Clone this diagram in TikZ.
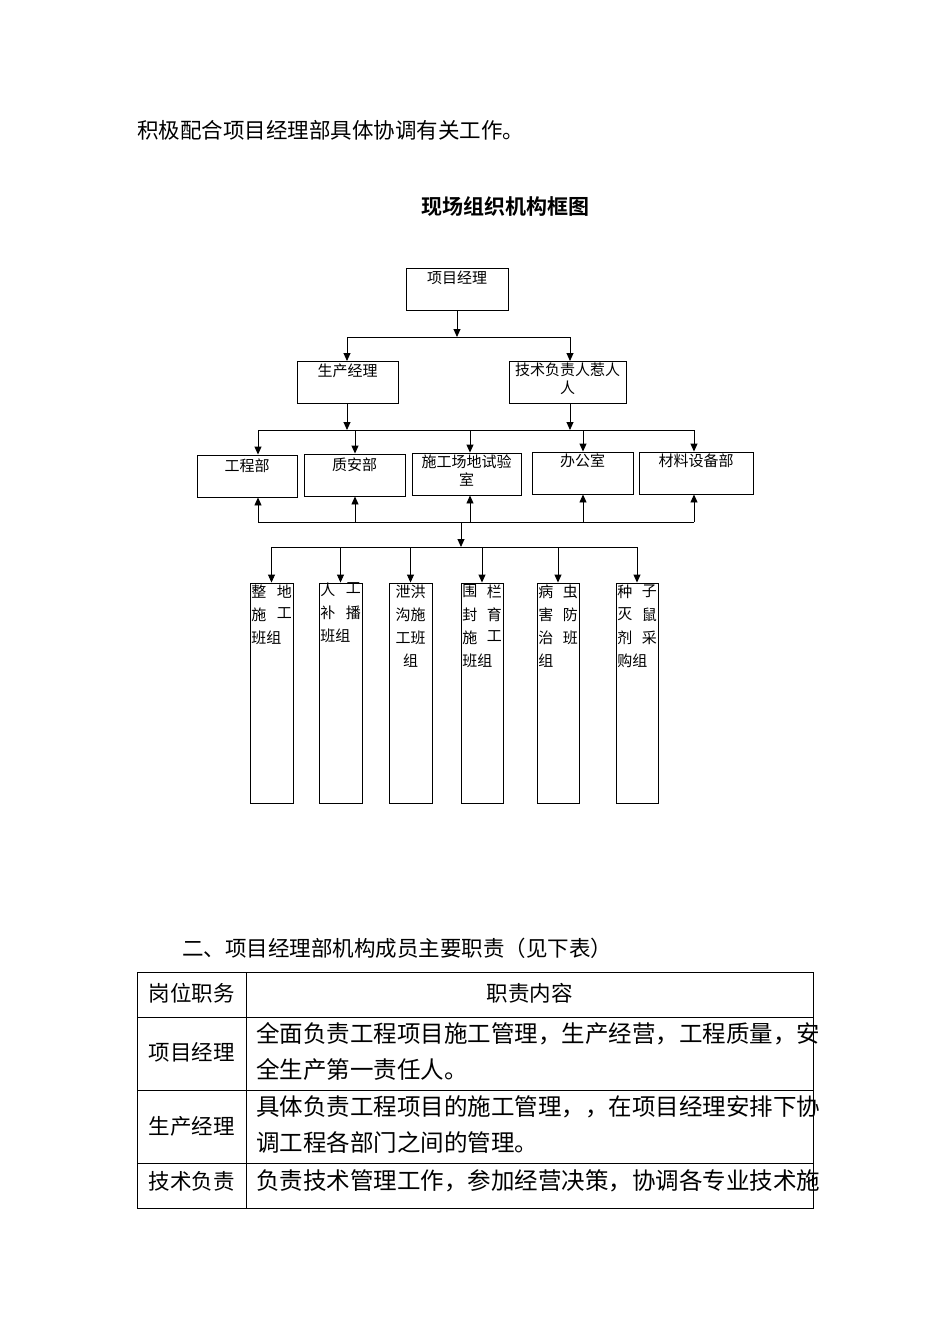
\documentclass[tikz,border=0pt]{standalone}
\usepackage{fontspec}
\setmainfont{Liberation Serif}
\newfontfamily\cjk{Noto Sans CJK SC}
\newfontfamily\cjkb{Noto Sans CJK SC Bold}
\usetikzlibrary{arrows.meta}
\begin{document}
\begin{tikzpicture}[x=1pt,y=-1pt,
  box/.style={draw,line width=0.9pt,inner sep=0pt},
  lab/.style={font=\cjk\fontsize{15}{18}\selectfont,inner sep=0pt,align=center},
  arr/.style={line width=0.9pt,-{Triangle[length=8pt,width=7pt]}},
  ln/.style={line width=0.9pt},
  body/.style={font=\cjk\fontsize{21.5}{24}\selectfont,inner sep=0pt},
  cell/.style={font=\cjk\fontsize{23.5}{24}\selectfont,inner sep=0pt}]
\useasboundingbox (0,0) rectangle (950,1344);
\node[body,anchor=west] (t1) at (137,130) {积极配合项目经理部具体协调有关工作。};
\node[font=\cjkb\fontsize{21}{24}\selectfont] (title) at (505,206) {现场组织机构框图};
% level boxes
\node[box,minimum width=102,minimum height=42] (pm) at (457,289) {};
\node[lab,anchor=north] at (pm.north) [yshift=-3] {项目经理};
\node[box,minimum width=101,minimum height=42] (sc) at (347.5,382) {};
\node[lab,anchor=north] at (sc.north) [yshift=-3] {生产经理};
\node[box,minimum width=117,minimum height=42] (js) at (567.5,382) {};
\node[lab,anchor=north] at (js.north) [yshift=-2] {技术负责人惹人\\人};
\coordinate (j1) at (457,337);
\draw[arr] (pm.south) -- (j1);
\draw[ln] (347,337) -- (570,337);
\draw[arr] (347,337) -- (347,361);
\draw[arr] (570,337) -- (570,361);
% departments
\node[box,minimum width=100,minimum height=42] (d1) at (247,476) {};
\node[box,minimum width=101,minimum height=42] (d2) at (354.5,475) {};
\node[box,minimum width=109,minimum height=42] (d3) at (466.5,474) {};
\node[box,minimum width=101,minimum height=42] (d4) at (582.5,473) {};
\node[box,minimum width=114,minimum height=42] (d5) at (696,473) {};
\node[lab,anchor=north] at ([yshift=-4]d1.north) {工程部};
\node[lab,anchor=north] at ([yshift=-4]d2.north) {质安部};
\node[lab,anchor=north] at ([yshift=-2]d3.north) {施工场地试验\\室};
\node[lab,anchor=north] at ([yshift=-2]d4.north) {办公室};
\node[lab,anchor=north] at ([yshift=-2]d5.north) {材料设备部};
\coordinate (sb) at (347,403);
\coordinate (jb) at (570,403);
\draw[arr] (sb) -- (347,430);
\draw[arr] (jb) -- (570,430);
\draw[ln] (258,430) -- (694,430);
\foreach \x/\n in {258/d1,355/d2,470/d3,583/d4,694/d5}{
  \coordinate (pa) at (\x,430);
  \coordinate (pb) at (\x,522);
  \draw[arr] (pa) -- (pa |- \n.north);
  \draw[arr] (pb) -- (pb |- \n.south);
}
\draw[ln] (258,522) -- (694,522);
\draw[arr] (461,522) -- (461,547);
\draw[ln] (272,547) -- (637,547);
% columns
\foreach \x/\w/\n in {271.5/43/c1,340.5/43/c2,410.5/43/c3,482/42/c4,558/42/c5,637/42/c6}{
  \node[box,minimum width=\w,minimum height=220] (\n) at (\x,693) {};
  \draw[arr] (\x,547) -- (\n.north);
}
\newcommand\twoch[4]{%
  \node[lab,anchor=north west] at ([xshift=1.5,yshift=-#2]#1.north west) {#3};
  \node[lab,anchor=north east] at ([xshift=-1.5,yshift=-#2]#1.north east) {#4};}
\newcommand\onel[3]{\node[lab,anchor=north west] at ([xshift=1.5,yshift=-#2]#1.north west) {#3};}
\twoch{c1}{2}{整}{地}\twoch{c1}{25}{施}{工}\onel{c1}{48}{班组}
\twoch{c2}{0}{人}{工}\twoch{c2}{23}{补}{播}\onel{c2}{46}{班组}
\node[lab,anchor=north] at ([yshift=-2]c3.north) {泄洪\\[5pt]沟施\\[5pt]工班\\[5pt]组};
\twoch{c4}{2}{围}{栏}\twoch{c4}{25}{封}{育}\twoch{c4}{48}{施}{工}\onel{c4}{71}{班组}
\twoch{c5}{2}{病}{虫}\twoch{c5}{25}{害}{防}\twoch{c5}{48}{治}{班}\onel{c5}{71}{组}
\twoch{c6}{2}{种}{子}\twoch{c6}{25}{灭}{鼠}\twoch{c6}{48}{剂}{采}\onel{c6}{71}{购组}
% table
\node[body,anchor=west] (t2) at (182,948) {二、项目经理部机构成员主要职责（见下表）};
\draw[ln,line width=0.8pt] (137,972) rectangle (813,1208);
\draw[ln,line width=0.8pt] (246,972) -- (246,1208);
\foreach \y in {1017,1090,1163}{\draw[ln,line width=0.8pt] (137,\y) -- (813,\y);}
\node[body] (h1) at (191.5,993) {岗位职务};
\node[body] (h2) at (529.5,993) {职责内容};
\node[body] (r1) at (191.5,1052) {项目经理};
\node[cell,anchor=west] at (256,1034) {全面负责工程项目施工管理，生产经营，工程质量，安};
\node[cell,anchor=west] at (256,1070) {全生产第一责任人。};
\node[body] (r2) at (191.5,1126) {生产经理};
\node[cell,anchor=west] at (256,1107) {具体负责工程项目的施工管理，，在项目经理安排下协};
\node[cell,anchor=west] at (256,1143) {调工程各部门之间的管理。};
\node[body] (r3) at (191.5,1181) {技术负责};
\node[cell,anchor=west] at (256,1181) {负责技术管理工作，参加经营决策，协调各专业技术施};
\end{tikzpicture}
\end{document}
